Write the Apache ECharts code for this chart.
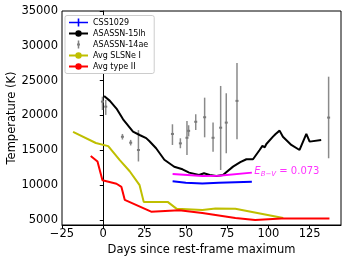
<!DOCTYPE html>
<html><head><meta charset="utf-8">
<script src="https://cdn.jsdelivr.net/npm/echarts@6/dist/echarts.min.js"></script>
<style>html,body{margin:0;padding:0;background:#fff}#c{width:347px;height:261px}</style>
</head><body><div id="c"></div>
<script>
const xTicks = [-25, 0, 25, 50, 75, 100, 125];
const yTicks = [5000, 10000, 15000, 20000, 25000, 30000, 35000];
const css1029 = [[42,10550],[50,10350],[60,10250],[70,10350],[90,10500]];
const asassn15lh = [[0.5,22800],[4,22100],[8,21000],[12,19450],[18,17700],[22,17200],[26,16750],[28,16300],[32,15300],[37,13650],[43,12650],[48,12280],[52,11800],[58,11470],[61,11700],[64.5,11470],[68.5,11320],[72.5,11470],[78.6,12660],[83,13300],[86.7,13720],[90.7,13720],[94.7,15050],[96.4,15630],[97.8,15440],[98.8,15910],[102.8,16960],[104.4,17350],[106.8,17830],[108.8,16960],[113.9,15770],[118.9,15050],[123,17350],[125,16250],[132,16490]];
// [x, y, low, high]
const asassn14ae = [[-0.5,21990,20790,22700],[1.5,21270,20080,22230],[11.6,16950,16550,17350],[16.6,16100,15700,16500],[21.3,15050,13400,17900],[41.9,17350,15770,18740],[46.7,16000,15300,16730],[50.7,16800,14340,19210],[51.7,17800,17000,18600],[56,19100,17920,20180],[61.4,19750,16870,22560],[66.5,16800,14810,18980],[71.1,18250,12180,24240],[74.5,18980,14580,23190],[81,22100,16590,27550],[136.5,19700,13860,25570]];
const avgSLSNeI = [[-18.3,17650],[-4.5,16050],[3,15600],[10,13600],[16,12000],[22,10000],[24.5,7600],[39,7600],[44.5,6600],[60,6450],[68,6650],[80,6600],[109,5300]];
const avgTypeII = [[-7.6,14200],[-3.5,13400],[-0.5,10700],[8,10200],[11,9750],[13,7900],[29,6200],[46,6400],[60,6000],[80,5300],[92,5000],[108,5200],[137,5200]];
const ebvLine = [[42,11600],[60,11330],[70,11350],[90,11800]];
const ebvLabelPos = [[91.5,11940]];

const F = 'DejaVu Sans';
const fmt = v => String(v).replace('-', '\u2212');
const chart = echarts.init(document.getElementById('c'), null, {renderer: 'canvas'});
chart.setOption({
  animation: false,
  backgroundColor: '#fff',
  grid: {left: 62, right: 6, top: 11, bottom: 36, show: true, borderColor: '#000', borderWidth: 1,
    containLabel: false, outerBoundsMode: 'none'},
  legend: {
    left: 65, top: 15.5, orient: 'vertical', itemWidth: 19, itemHeight: 8, itemGap: 3,
    backgroundColor: '#fff', borderColor: '#ccc', borderWidth: 1, borderRadius: 2, padding: [3, 6, 3, 3],
    textStyle: {fontFamily: F, fontSize: 8, color: '#000'},
    symbolKeepAspect: true,
    data: [
      {name: 'CSS1029', icon: 'path://M0,3.2 H19 V4.8 H0 Z M8.7,0 H10.3 V8 H8.7 Z'},
      {name: 'ASASSN-15lh'},
      {name: 'ASASSN-14ae', icon: 'path://M0.75,0 H2.25 V8 H0.75 Z M0,3 H3 V5 H0 Z'},
      {name: 'Avg SLSNe I'},
      {name: 'Avg type II'}
    ]
  },
  xAxis: {
    type: 'value', min: -25, max: 144,
    name: 'Days since rest-frame maximum', nameLocation: 'middle', nameGap: 19, nameMoveOverlap: false,
    nameTextStyle: {fontFamily: F, fontSize: 11.5, color: '#000'},
    axisLine: {lineStyle: {color: '#000', width: 1}},
    axisTick: {customValues: xTicks, length: 3.5, lineStyle: {color: '#000'}},
    axisLabel: {customValues: xTicks, formatter: fmt, fontFamily: F, fontSize: 11.5, color: '#000', margin: 3},
    splitLine: {show: false}
  },
  yAxis: {
    type: 'value', min: 4282, max: 35000,
    name: 'Temperature (K)', nameLocation: 'middle', nameGap: 44, nameMoveOverlap: false,
    nameTextStyle: {fontFamily: F, fontSize: 11.5, color: '#000'},
    axisLine: {show: true, lineStyle: {color: '#000', width: 1}},
    axisTick: {show: true, customValues: yTicks, length: 3.5, lineStyle: {color: '#000'}},
    axisLabel: {customValues: yTicks, formatter: v => String(v), fontFamily: F, fontSize: 11.5, color: '#000', margin: 4},
    splitLine: {show: false}
  },
  series: [
    {name: 'CSS1029', type: 'line', data: css1029, symbol: 'none', color: '#0000ff', lineStyle: {width: 2, color: '#0000ff'}},
    {name: 'ASASSN-15lh', type: 'line', data: asassn15lh, symbol: 'none', color: '#000', lineStyle: {width: 2, color: '#000'}},
    {name: 'ASASSN-14ae', type: 'custom', data: asassn14ae, color: '#808080', itemStyle: {color: '#808080'},
      encode: {x: 0, y: [1, 2, 3]},
      renderItem: function (params, api) {
        const x = api.value(0);
        const p = api.coord([x, api.value(1)]);
        const lo = api.coord([x, api.value(2)]);
        const hi = api.coord([x, api.value(3)]);
        return {type: 'group', children: [
          {type: 'line', shape: {x1: lo[0], y1: lo[1], x2: hi[0], y2: hi[1]}, style: {stroke: '#8a8a8a', lineWidth: 1.5}},
          {type: 'rect', shape: {x: p[0] - 1.5, y: p[1] - 1, width: 3, height: 2}, style: {fill: '#7a7a7a'}}
        ]};
      }},
    {name: 'Avg SLSNe I', type: 'line', data: avgSLSNeI, symbol: 'none', color: '#bfbf00', lineStyle: {width: 2, color: '#bfbf00'}},
    {name: 'Avg type II', type: 'line', data: avgTypeII, symbol: 'none', color: '#ff0000', lineStyle: {width: 2, color: '#ff0000'}},
    {name: 'ebv', type: 'line', data: ebvLine, symbol: 'none', color: '#ff00ff', lineStyle: {width: 2, color: '#ff00ff'}},
    {name: 'ebvlabel', type: 'scatter', data: ebvLabelPos, symbolSize: 0, silent: true,
      label: {show: true, position: [0, 0], align: 'left', verticalAlign: 'middle',
        formatter: '{e|E}{s|B\u2212V}{n| = 0.073}',
        rich: {
          e: {fontFamily: F, fontSize: 10, fontStyle: 'italic', color: '#ff00ff'},
          s: {fontFamily: F, fontSize: 7, fontStyle: 'italic', color: '#ff00ff', padding: [5, 0, 0, 0]},
          n: {fontFamily: F, fontSize: 10, color: '#ff00ff'}
        }}}
  ]
});
</script></body></html>
